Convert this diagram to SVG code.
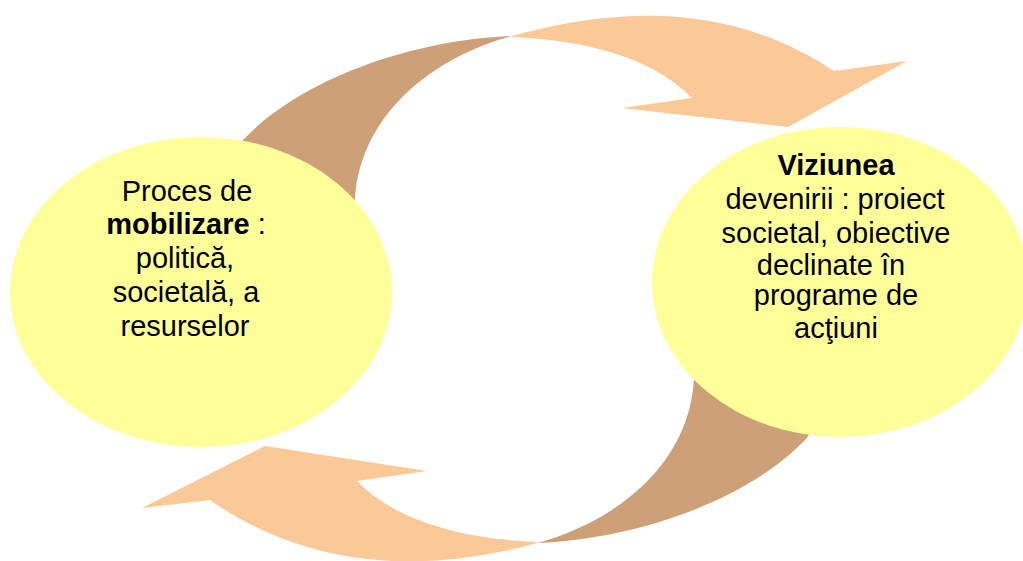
<svg xmlns="http://www.w3.org/2000/svg" width="1023" height="561" viewBox="0 0 1023 561">
  <style>
    .bg { fill: #FFFFFF; }
    .back { fill: #CDA077; }
    .front { fill: #FBC997; }
    .node { fill: #FFFF99; }
    .lbl { font-family: "Liberation Sans", Arial, sans-serif; font-size: 29px; fill: #000000; text-anchor: middle; }
    .b { font-weight: bold; }
  </style>
  <rect class="bg" x="0" y="0" width="1023" height="561"/>
  <g id="connectors">
    <g id="arrow-top">
      <path class="back" d="M215,180 L243,140 C300,80 410,40 512,36 C440,55 360,110 355,200 L355,240 Z"/>
      <path class="front" d="M512,36 C600,12 720,-5 834,71 L907,61 L788,127 L622,108 L692,98 C650,55 580,40 512,37 Z"/>
    </g>
    <g id="arrow-bottom">
      <path class="back" d="M834,399 L806,439 C749,499 639,539 537,543 C609,524 689,469 694,379 L694,339 Z"/>
      <path class="front" d="M537,543 C449,567 325,580 210,500 L142,508 L265,446 L427,471 L357,481 C399,524 469,539 537,542 Z"/>
    </g>
  </g>
  <g id="node-mobilizare">
    <ellipse class="node" cx="201" cy="292" rx="191" ry="155"/>
    <text class="lbl" x="187" y="201">Proces de</text>
    <text class="lbl" x="186" y="234"><tspan class="b">mobilizare</tspan> :</text>
    <text class="lbl" x="185" y="268">politică,</text>
    <text class="lbl" x="186" y="302">societală, a</text>
    <text class="lbl" x="185" y="336">resurselor</text>
  </g>
  <g id="node-viziunea">
    <ellipse class="node" cx="840" cy="282" rx="188" ry="155"/>
    <text class="lbl b" x="836" y="175">Viziunea</text>
    <text class="lbl" x="835" y="209">devenirii : proiect</text>
    <text class="lbl" x="836" y="243">societal, obiective</text>
    <text class="lbl" x="831" y="275">declinate în</text>
    <text class="lbl" x="836" y="305">programe de</text>
    <text class="lbl" x="836" y="338">acţiuni</text>
  </g>
</svg>
